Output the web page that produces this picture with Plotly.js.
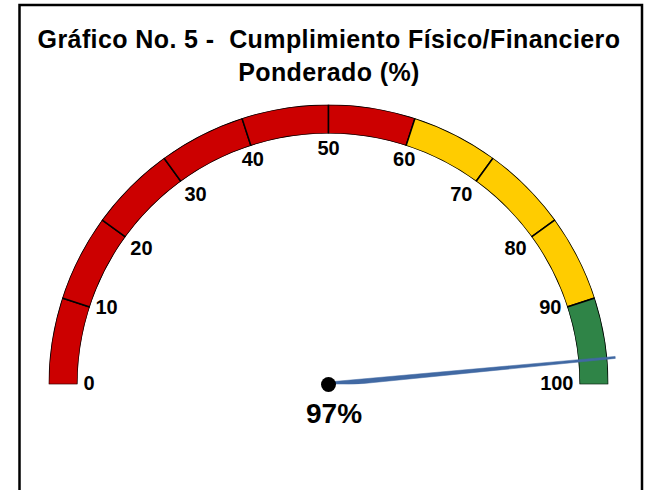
<!DOCTYPE html>
<html>
<head>
<meta charset="utf-8">
<script src="https://cdn.plot.ly/plotly-3.0.1.min.js"></script>
<style>html,body{margin:0;padding:0;background:#fff;}#chart{width:651px;height:490px;}.gtitle{letter-spacing:0.4px;}</style>
</head>
<body>
<div id="chart"></div>
<script>
// ---- data ----
const chartTitle = "Gráfico No. 5 -  Cumplimiento Físico/Financiero<br>Ponderado (%)";
const gaugeMin = 0;
const gaugeMax = 100;
const segmentStarts = [0, 10, 20, 30, 40, 50, 60, 70, 80, 90];
const segmentEnds   = [10, 20, 30, 40, 50, 60, 70, 80, 90, 100];
const segmentZones  = ["bajo", "bajo", "bajo", "bajo", "bajo", "bajo", "medio", "medio", "medio", "alto"];
const tickValues = [0, 10, 20, 30, 40, 50, 60, 70, 80, 90, 100];
const tickLabels = ["0", "10", "20", "30", "40", "50", "60", "70", "80", "90", "100"];
const needleValue = 97;

// ---- styles ----
const zoneColors = { bajo: "#cc0000", medio: "#ffcc00", alto: "#2f8447" };
const FONT = "Liberation Sans, Arial, sans-serif";
const toDeg = v => (v - gaugeMin) / (gaugeMax - gaugeMin) * 180;
const labelPos = v => {
  const f = (v - gaugeMin) / (gaugeMax - gaugeMin);
  if (f < 0.15) return "middle right";
  if (f < 0.35) return "bottom right";
  if (f < 0.65) return "bottom center";
  if (f < 0.85) return "bottom left";
  return "middle left";
};

const W = 651, H = 490, cx = 328.5, cy = 384.5, R1 = 280, R2 = 300;
const dom = R => ({ x: [(cx - R) / W, (cx + R) / W], y: [1 - cy / H, 1 - (cy - R) / H] });

const hiddenAxes = {
  sector: [0, 180],
  bgcolor: "rgba(0,0,0,0)",
  angularaxis: { visible: false, rotation: 180, direction: "clockwise", showgrid: false, showline: false, ticks: "" },
};

const segTrace = {
  type: "barpolar",
  subplot: "polar",
  r: segmentStarts.map(() => 1),
  theta: segmentStarts.map((s, i) => (toDeg(s) + toDeg(segmentEnds[i])) / 2),
  width: segmentStarts.map((s, i) => toDeg(segmentEnds[i]) - toDeg(s)),
  marker: { color: segmentZones.map(z => zoneColors[z]), line: { color: "#000", width: 1.5 } },
  hoverinfo: "skip"
};

const labelTrace = {
  type: "scatterpolar",
  subplot: "polar2",
  mode: "text",
  r: tickValues.map(() => 245),
  theta: tickValues.map(toDeg),
  text: tickLabels,
  textposition: tickValues.map(labelPos),
  textfont: { family: FONT, size: 20, color: "#000", weight: "bold" },
  cliponaxis: false,
  hoverinfo: "skip"
};

const nd = toDeg(needleValue);
const needleTrace = {
  type: "scatterpolar",
  subplot: "polar2",
  mode: "lines",
  r: [2.5, 288, 288, 2.5, 2.5],
  theta: [nd - 90, nd - 0.2, nd + 0.2, nd + 90, nd - 90],
  fill: "toself",
  fillcolor: "#4169a3",
  line: { color: "#4169a3", width: 0.5 },
  cliponaxis: false,
  hoverinfo: "skip"
};

const hubTrace = {
  type: "scatterpolar",
  subplot: "polar2",
  mode: "markers",
  r: [0],
  theta: [0],
  marker: { color: "#000", size: 15 },
  cliponaxis: false,
  hoverinfo: "skip"
};

const layout = {
  width: W, height: H,
  margin: { l: 0, r: 0, t: 0, b: 0 },
  paper_bgcolor: "#fff",
  showlegend: false,
  title: {
    text: chartTitle,
    font: { family: FONT, size: 25, color: "#000", weight: "bold" },
    x: 329 / W, xanchor: "center", xref: "paper",
    y: 1 - 48 / H, yanchor: "middle", yref: "container"
  },
  polar: Object.assign({}, hiddenAxes, {
    domain: dom(R1), hole: 251 / 280,
    radialaxis: { visible: false, range: [0, 1], showgrid: false }
  }),
  polar2: Object.assign({}, hiddenAxes, {
    domain: dom(R2),
    radialaxis: { visible: false, range: [0, R2], showgrid: false }
  }),
  annotations: [{
    xref: "paper", yref: "paper", x: 334 / W, y: 1 - 413 / H,
    xanchor: "center", yanchor: "middle",
    text: needleValue + "%", showarrow: false,
    font: { family: FONT, size: 28, color: "#000", weight: "bold" }
  }],
  shapes: [{
    type: "rect", xref: "paper", yref: "paper",
    x0: 19.5 / W, x1: 642 / W, y0: -0.05, y1: 1 - 5 / H,
    line: { color: "#000", width: 2.5 }
  }]
};

Plotly.newPlot("chart", [segTrace, needleTrace, labelTrace, hubTrace], layout, { staticPlot: true, displayModeBar: false });
</script>
</body>
</html>
